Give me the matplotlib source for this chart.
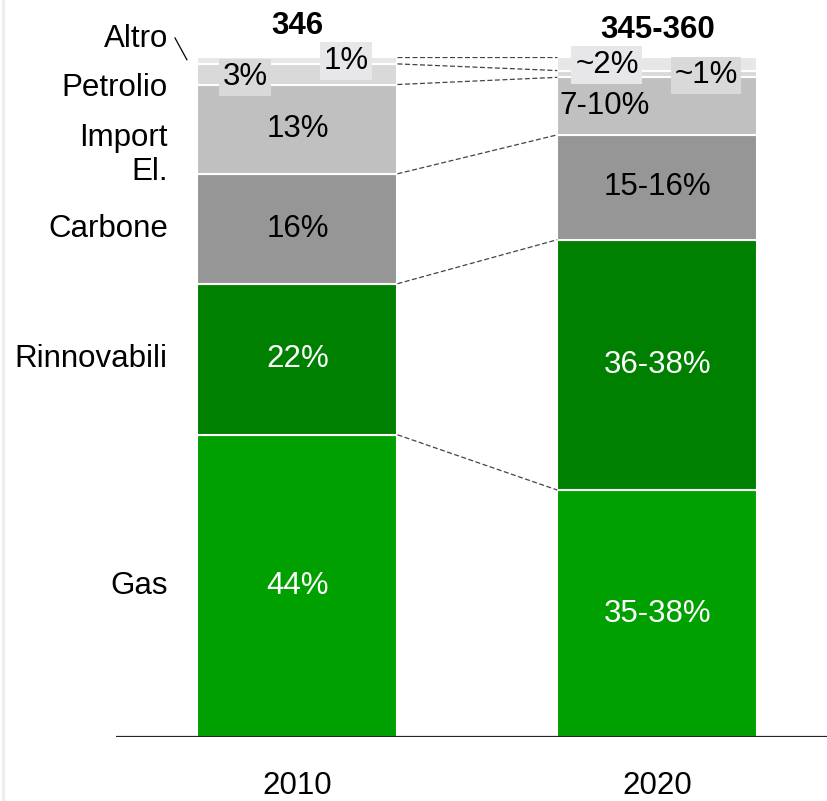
import matplotlib
matplotlib.use("Agg")
import matplotlib.pyplot as plt
from matplotlib.lines import Line2D
import numpy as np

plt.rcParams['font.family'] = ['Liberation Sans', 'DejaVu Sans']

# dati: mix produzione (quote %), dal basso verso l'alto
fonti = ['Gas', 'Rinnovabili', 'Carbone', 'Import\nEl.', 'Petrolio', 'Altro']
anni = ['2010', '2020']
totali = ['346', '345-360']

quote_2010 = [44, 22, 16, 13, 3, 1]
etich_2010 = ['44%', '22%', '16%', '13%', '3%', '1%']

min_2020 = [35, 36, 15, 7, 1, 2]
max_2020 = [38, 38, 16, 10, 1, 2]
etich_2020 = ['35-38%', '36-38%', '15-16%', '7-10%', '~1%', '~2%']

colori = ['#00a000', '#008000', '#969696', '#c0c0c0', '#d9d9d9', '#e7e7e9']
col_testo = ['white', 'white', 'black', 'black', 'black', 'black']

quote_2020 = [(a + b) / 2 for a, b in zip(min_2020, max_2020)]


def normalizza(v):
    v = np.array(v, dtype=float)
    return v / v.sum() * 100


colonne = [normalizza(quote_2010), normalizza(quote_2020)]

fig = plt.figure(figsize=(8.28, 8.01), dpi=100)
ax = fig.add_axes([0.1401, 0.0799, 0.8599, 0.8489])

xpos = [0, 1]
w = 0.556
fs = 22.5

basi = []
for x, col in zip(xpos, colonne):
    fondo = np.concatenate([[0], np.cumsum(col)[:-1]])
    basi.append(np.concatenate([[0], np.cumsum(col)]))
    ax.bar([x] * len(col), col, bottom=fondo, width=w, color=colori,
           edgecolor='white', linewidth=1.5)

# linee tratteggiate di raccordo tra i confini dei segmenti
for y0, y1 in zip(basi[0][1:], basi[1][1:]):
    ax.plot([xpos[0] + w / 2, xpos[1] - w / 2], [y0, y1], ls=(0, (4, 2)),
            color='#444444', lw=0.9)

centri = [(b[:-1] + b[1:]) / 2 for b in basi]

# etichette dentro le barre (i segmenti grandi)
for i in range(4):
    ax.text(xpos[0], centri[0][i], etich_2010[i], ha='center', va='center',
            fontsize=fs, color=col_testo[i])
for i in range(3):
    ax.text(xpos[1], centri[1][i], etich_2020[i], ha='center', va='center',
            fontsize=fs, color=col_testo[i])
ax.text(xpos[1] - w / 2 + 0.006, centri[1][3], etich_2020[3], ha='left',
        va='center', fontsize=fs)

# etichette dei segmenti piccoli con riquadro
box = dict(boxstyle='square,pad=0.12', ec='none')
ax.text(-0.146, 97.0, etich_2010[4], ha='center', va='center', fontsize=fs,
        bbox=dict(box, fc=colori[4]))
ax.text(0.135, 99.4, etich_2010[5], ha='center', va='center', fontsize=fs,
        bbox=dict(box, fc=colori[5]))
ax.text(0.86, 98.8, etich_2020[5], ha='center', va='center', fontsize=fs,
        bbox=dict(box, fc=colori[5]))
ax.text(1.135, 97.3, etich_2020[4], ha='center', va='center', fontsize=fs,
        bbox=dict(box, fc=colori[4]))

# totali sopra le barre
ax.text(xpos[0], 104.6, totali[0], ha='center', va='center', fontsize=fs,
        fontweight='bold')
ax.text(xpos[1], 104.0, totali[1], ha='center', va='center', fontsize=fs,
        fontweight='bold')

# nomi delle fonti a sinistra
xl = -0.36
pos_nomi = [centri[0][0], centri[0][1], centri[0][2], 85.6, 95.4, 102.6]
for nome, y in zip(fonti, pos_nomi):
    ax.text(xl, y, nome, ha='right', va='center', fontsize=fs,
            linespacing=1.2)
ax.plot([-0.340, -0.307], [102.8, 99.6], color='black', lw=0.9,
        clip_on=False)

# anni sotto l'asse
for x, a in zip(xpos, anni):
    ax.text(x, -7.2, a, ha='center', va='center', fontsize=fs)

ax.set_xlim(-0.504, 1.474)
ax.set_ylim(0, 100)
ax.axhline(0, color='#222222', lw=1.6)
for s in ax.spines.values():
    s.set_visible(False)
ax.set_xticks([])
ax.set_yticks([])

fig.add_artist(Line2D([0.004, 0.004], [0, 1], color='#eeeeee', lw=2.5))

fig.savefig('out.png', dpi=100)
